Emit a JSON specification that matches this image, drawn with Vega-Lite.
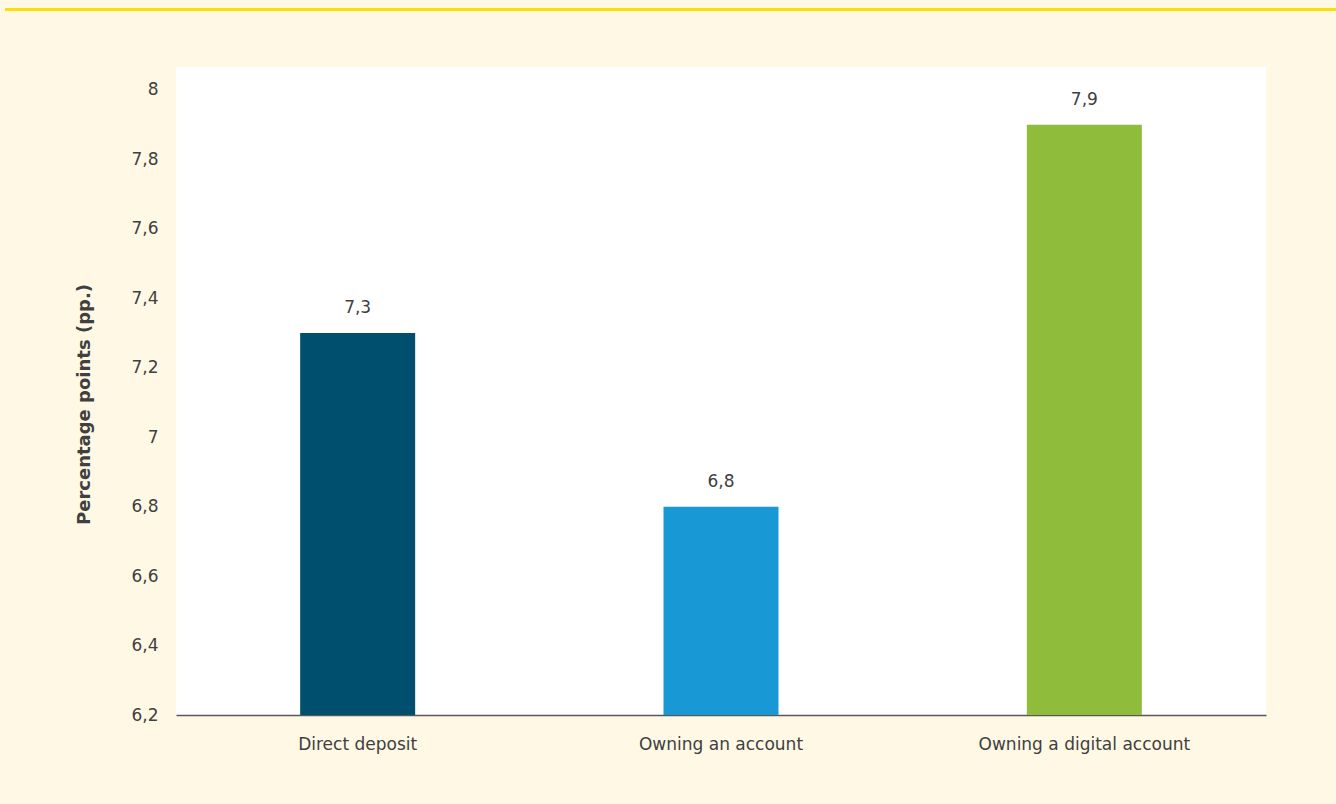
{
  "$schema": "https://vega.github.io/schema/vega-lite/v6.json",
  "background": "#FFF8E5",
  "padding": {"left": 5, "top": 8, "right": 0, "bottom": 52},
  "config": {
    "locale": {"number": {"decimal": ",", "thousands": ".", "grouping": [3], "currency": ["", " €"]}},
    "view": {"stroke": null},
    "font": "DejaVu Sans"
  },
  "spacing": 56,
  "vconcat": [
    {
      "width": 1160,
      "height": 3,
      "data": {"values": [{"band": "top rule"}]},
      "mark": {"type": "rect", "color": "#FFDD00"},
      "encoding": {
        "x": {"datum": -0.1474, "type": "quantitative", "scale": {"domain": [0, 1], "nice": false, "zero": false}, "axis": null},
        "x2": {"datum": 1}
      }
    },
    {
      "width": 1090,
      "height": 648,
      "view": {"fill": "#FFFFFF", "stroke": null},
      "data": {
        "values": [
          {"measure": "Direct deposit", "value": 7.3},
          {"measure": "Owning an account", "value": 6.8},
          {"measure": "Owning a digital account", "value": 7.9}
        ]
      },
      "encoding": {
        "x": {
          "field": "measure",
          "type": "nominal",
          "sort": null,
          "scale": {"paddingInner": 0, "paddingOuter": 0},
          "axis": {
            "title": null,
            "domain": true,
            "domainColor": "#595959",
            "domainWidth": 1.5,
            "ticks": false,
            "tickSize": 0,
            "grid": false,
            "labelAngle": 0,
            "labelPadding": 21,
            "labelFontSize": 17,
            "labelLimit": 0,
            "labelColor": "#404040"
          }
        },
        "y": {
          "field": "value",
          "type": "quantitative",
          "scale": {"domain": [6.2, 8.0662], "zero": false, "nice": false},
          "axis": {
            "values": [6.2, 6.4, 6.6, 6.8, 7, 7.2, 7.4, 7.6, 7.8, 8],
            "format": "~g",
            "domain": false,
            "ticks": false,
            "tickSize": 0,
            "grid": false,
            "labelPadding": 18,
            "labelFontSize": 17,
            "labelColor": "#404040",
            "minExtent": 171,
            "maxExtent": 171,
            "title": "Percentage points (pp.)",
            "titleFontSize": 18,
            "titleFontWeight": "bold",
            "titleColor": "#404040",
            "titleX": -92,
            "titleY": 337,
            "titleAngle": -90,
            "titleAlign": "center",
            "titleBaseline": "middle"
          }
        }
      },
      "layer": [
        {
          "mark": {"type": "bar", "size": 115},
          "encoding": {
            "y2": {"datum": 6.2},
            "color": {
              "field": "measure",
              "type": "nominal",
              "scale": {
                "domain": ["Direct deposit", "Owning an account", "Owning a digital account"],
                "range": ["#004F6E", "#1899D6", "#8FBC3A"]
              },
              "legend": null
            }
          }
        },
        {
          "mark": {"type": "text", "dy": -20, "baseline": "alphabetic", "fontSize": 17, "color": "#404040"},
          "encoding": {
            "text": {"field": "value", "type": "quantitative", "format": ".1f"}
          }
        }
      ]
    }
  ]
}
